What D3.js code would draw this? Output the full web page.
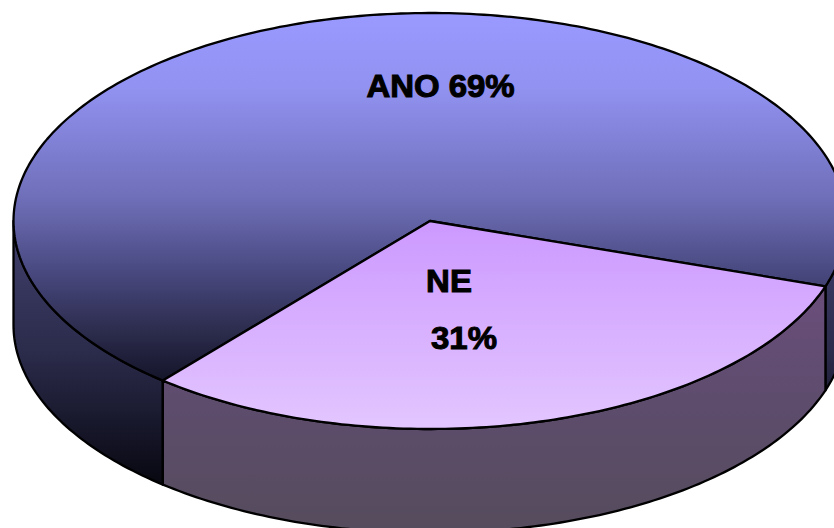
<!DOCTYPE html>
<html>
<head>
<meta charset="utf-8">
<script src="https://cdn.jsdelivr.net/npm/d3@7"></script>
<style>
  html, body { margin: 0; padding: 0; background: #fff; overflow: hidden; }
  svg { display: block; }
  text { font-family: "Liberation Sans", Arial, sans-serif; font-weight: bold; fill: #000; stroke: #000; stroke-width: 1; }
</style>
</head>
<body>
<div id="chart"></div>
<script>
const categories = ['ANO', 'NE'];
const values = [69, 31];
const labelLines = [['ANO 69%'], ['NE', '31%']];

const width = 834, height = 528;
const cx = 430, cy = 221, rx = 416.5, ry = 208, depth = 104;
const startDeg = 219.9;

const topStops = [
  [['0', '#9999ff'], ['0.2', '#9292f2'], ['0.51', '#6e6eb8'], ['0.7', '#4a4a82'], ['0.88', '#2a2a4a'], ['1', '#15152b']],
  [['0', '#cc99ff'], ['1', '#e3c6ff']]
];
const wallStops = [
  [['0', '#41416f'], ['0.5', '#2b2b4b'], ['1', '#080812']],
  [['0', '#6b4e7c'], ['0.5', '#5d4c6c'], ['1', '#554c5c']]
];

const svg = d3.select('#chart').append('svg')
  .attr('width', width)
  .attr('height', height);

const defs = svg.append('defs');

function addGradient(id, stops, y1, y2){
  const g = defs.append('linearGradient')
    .attr('id', id)
    .attr('gradientUnits', 'userSpaceOnUse')
    .attr('x1', 0).attr('x2', 0)
    .attr('y1', y1).attr('y2', y2);
  g.selectAll('stop')
    .data(stops)
    .join('stop')
    .attr('offset', d => d[0])
    .attr('stop-color', d => d[1]);
}

addGradient('top0', topStops[0], cy - ry, cy + ry - 50);
addGradient('top1', topStops[1], cy, cy + ry);
addGradient('wall0', wallStops[0], cy, cy + ry + depth - 50);
addGradient('wall1', wallStops[1], cy + 60, cy + ry + depth);

const pie = d3.pie()
  .sort(null)
  .startAngle(startDeg * Math.PI / 180)
  .endAngle((startDeg + 360) * Math.PI / 180);

const slices = pie(values);

const line = d3.line().x(d => d[0]).y(d => d[1]);

// points along the rim, a in radians from 12 o'clock
function rim(a0, a1, dy){
  const n = Math.max(2, Math.ceil(Math.abs(a1 - a0) * 60));
  return d3.range(n + 1).map(i => {
    const a = a0 + (a1 - a0) * i / n;
    return [cx + rx * Math.sin(a), cy - ry * Math.cos(a) + dy];
  });
}

// parts of a slice on the front half of the pie
function frontParts(s){
  const parts = [];
  [[Math.PI / 2, Math.PI * 3 / 2], [Math.PI * 5 / 2, Math.PI * 7 / 2]].forEach(r => {
    [0, -2 * Math.PI].forEach(shift => {
      const a0 = Math.max(s.startAngle + shift, r[0]);
      const a1 = Math.min(s.endAngle + shift, r[1]);
      if (a1 > a0 && r[0] < 2 * Math.PI) parts.push([a0, a1]);
    });
  });
  return parts;
}

const walls = svg.append('g');
slices.forEach((s, i) => {
  walls.selectAll('.wall' + i)
    .data(frontParts(s))
    .join('path')
    .attr('class', 'wall' + i)
    .attr('d', d => line(rim(d[0], d[1], 0).concat(rim(d[1], d[0], depth))) + 'Z')
    .attr('fill', 'url(#wall' + i + ')')
    .attr('stroke', '#000')
    .attr('stroke-width', 2.3)
    .attr('stroke-linejoin', 'round');
});

svg.append('g')
  .selectAll('path')
  .data(slices)
  .join('path')
  .attr('d', d => line([[cx, cy]].concat(rim(d.startAngle, d.endAngle, 0))) + 'Z')
  .attr('fill', (d, i) => 'url(#top' + i + ')')
  .attr('stroke', '#000')
  .attr('stroke-width', 2.3)
  .attr('stroke-linejoin', 'round');

// label anchors: [x, baseline y] for each line, stretched like the source
const labelPos = [[[440.5, 97]], [[449, 292], [464, 349]]];
const labels = svg.append('g');
labelLines.forEach((lines, i) => {
  lines.forEach((t, j) => {
    labels.append('text')
      .attr('transform', 'translate(' + labelPos[i][j][0] + ',' + labelPos[i][j][1] + ') scale(1.08,1)')
      .attr('text-anchor', 'middle')
      .attr('font-size', 30.5)
      .text(t);
  });
});
</script>
</body>
</html>
